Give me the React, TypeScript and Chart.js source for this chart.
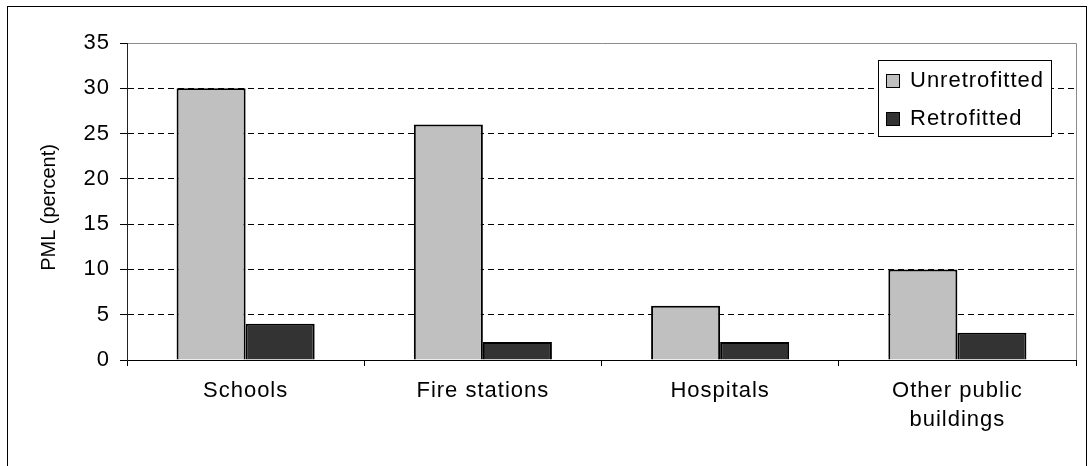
import React, { useEffect, useRef } from 'react';
import { Chart, registerables } from 'chart.js';

Chart.register(...registerables);

const categories: (string | string[])[] = ['Schools', 'Fire stations', 'Hospitals', ['Other public', 'buildings']];
const unretrofitted = [30, 26, 6, 10];
const retrofitted = [4, 2, 2, 3];
const seriesNames = ['Unretrofitted', 'Retrofitted'];
const seriesColors = ['#c0c0c0', '#333333'];
const yMin = 0;
const yMax = 35;
const yStep = 5;
const yTitle = 'PML (percent)';

const FONT = '"Liberation Sans", Arial, sans-serif';
const SPACING = '1px';

const spacingPlugin = {
  id: 'spacing',
  beforeUpdate(chart: any) {
    chart.ctx.letterSpacing = SPACING;
  },
  beforeLayout(chart: any) {
    chart.ctx.letterSpacing = SPACING;
  },
  beforeDraw(chart: any) {
    chart.ctx.letterSpacing = SPACING;
  },
};

const decorPlugin = {
  id: 'decor',
  afterDraw(chart: any) {
    const { ctx, chartArea: a } = chart;
    ctx.save();
    ctx.setLineDash([]);
    // plot area top and right border (gray)
    ctx.strokeStyle = '#8c8c8c';
    ctx.lineWidth = 1;
    const t = Math.round(a.top - 0.5) + 0.5;
    const r = Math.round(a.right - 0.5) + 0.5;
    ctx.beginPath();
    ctx.moveTo(a.left + 1, t);
    ctx.lineTo(r, t);
    ctx.lineTo(r, a.bottom);
    ctx.stroke();

    // outer frame
    ctx.strokeStyle = '#000';
    ctx.strokeRect(7.5, 6.5, 1079, 520);

    // legend
    const lx = a.right - 198;
    const ly = a.top + 17;
    ctx.fillStyle = '#fff';
    ctx.fillRect(lx + 0.5, ly + 0.5, 173, 76);
    ctx.strokeStyle = '#000';
    ctx.strokeRect(lx + 0.5, ly + 0.5, 173, 76);
    ctx.font = `22px ${FONT}`;
    ctx.letterSpacing = SPACING;
    ctx.textAlign = 'left';
    ctx.textBaseline = 'alphabetic';
    seriesNames.forEach((name, i) => {
      const my = ly + 14 + i * 38;
      ctx.fillStyle = seriesColors[i];
      ctx.fillRect(lx + 8.5, my + 0.5, 13, 13);
      ctx.strokeStyle = '#000';
      ctx.strokeRect(lx + 8.5, my + 0.5, 13, 13);
      ctx.fillStyle = '#000';
      ctx.fillText(name, lx + 32, my + 13);
    });

    // y title
    ctx.letterSpacing = '0px';
    ctx.translate(49, (a.top + a.bottom) / 2 + 6);
    ctx.rotate(-Math.PI / 2);
    ctx.font = `20px ${FONT}`;
    ctx.fillStyle = '#000';
    ctx.textAlign = 'center';
    ctx.textBaseline = 'middle';
    ctx.fillText(yTitle, 0, 0);
    ctx.restore();
  },
};

export default function App() {
  const ref = useRef<HTMLCanvasElement>(null);
  useEffect(() => {
    Chart.defaults.font.family = FONT;
    Chart.defaults.color = '#000';
    const chart = new Chart(ref.current!, {
      type: 'bar',
      data: {
        labels: categories as any,
        datasets: [
          {
            label: seriesNames[0],
            data: unretrofitted,
            backgroundColor: seriesColors[0],
            borderColor: '#000',
            borderWidth: 2,
          },
          {
            label: seriesNames[1],
            data: retrofitted,
            backgroundColor: seriesColors[1],
            borderColor: '#000',
            borderWidth: 2,
          },
        ],
      },
      options: {
        responsive: false,
        maintainAspectRatio: false,
        animation: false,
        layout: { padding: { left: 0, top: 43, right: 12, bottom: 0 } },
        datasets: { bar: { categoryPercentage: 0.582, barPercentage: 1 } },
        plugins: { legend: { display: false }, tooltip: { enabled: false }, title: { display: false } },
        scales: {
          x: {
            offset: true,
            grid: {
              display: true,
              drawOnChartArea: false,
              drawTicks: true,
              tickLength: 6,
              color: '#000',
              tickColor: '#000',
            },
            border: { display: true, color: '#000', width: 1 },
            ticks: {
              font: { size: 22, lineHeight: 1.3 },
              color: '#000',
              padding: 11,
              maxRotation: 0,
              autoSkip: false,
            },
            afterFit(scale: any) {
              scale.height = 106;
            },
          },
          y: {
            min: yMin,
            max: yMax,
            grid: {
              color: (c: any) => (c.tick && c.tick.value === yMax ? 'rgba(0,0,0,0)' : '#000'),
              tickColor: '#000',
              tickLength: 7,
              tickBorderDash: [],
              lineWidth: 1,
            },
            border: { display: true, color: '#222', width: 1, dash: [6, 4] },
            ticks: {
              stepSize: yStep,
              font: { size: 22 },
              color: '#000',
              padding: 10,
            },
            afterFit(scale: any) {
              scale.width = 127;
            },
          },
        },
      },
      plugins: [spacingPlugin, decorPlugin],
    } as any);
    return () => chart.destroy();
  }, []);
  return (
    <div style={{ position: 'fixed', left: 0, top: 0, width: 1088, height: 466, background: '#fff' }}>
      <canvas ref={ref} width={1088} height={466} style={{ display: 'block' }} />
    </div>
  );
}
